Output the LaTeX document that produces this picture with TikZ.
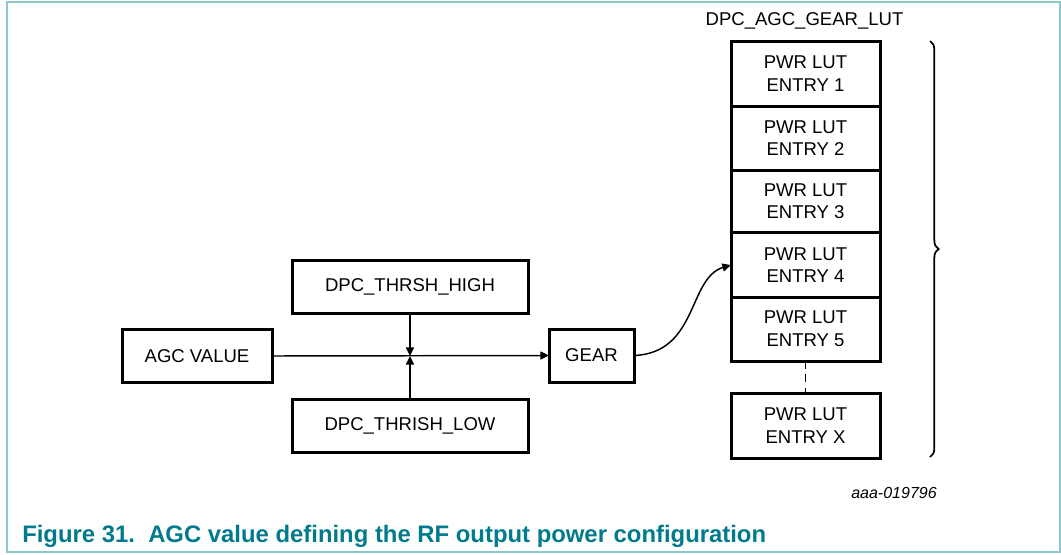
\documentclass[tikz,border=0pt]{standalone}
\usepackage{fontspec}
\setmainfont{Liberation Sans}
\usetikzlibrary{arrows.meta,decorations.pathreplacing}
\definecolor{capteal}{RGB}{0,122,140}
\definecolor{frameteal}{RGB}{140,200,206}
\tikzset{
  blk/.style 2 args={draw=black, line width=2.25pt, rectangle, inner sep=0pt, outer sep=0pt,
    minimum width={#1*0.75pt}, minimum height={#2*0.75pt}, align=center,
    font=\fontsize{13.9pt}{17pt}\selectfont},
  conn/.style={line width=1.1pt, draw=black},
  arr/.style={conn, -{Triangle[length=6.5pt,width=6pt]}},
  lbl/.style={font=\fontsize{13.9pt}{17pt}\selectfont, inner sep=0pt},
}
\begin{document}
\begin{tikzpicture}[x=0.75pt,y=-0.75pt]
\useasboundingbox (0,0) rectangle (1061,554);
\draw[frameteal, line width=1.6pt] (7,2) -- (1060,2) -- (1060,552) -- (7,552) -- cycle;

\node[blk={150}{53}] (agc) at (197,356) {AGC VALUE};
\node[blk={236}{53}] (high) at (410,286.5) {DPC\_THRSH\_HIGH};
\node[blk={236}{53}] (low) at (410,425.5) {DPC\_THRISH\_LOW};
\node[blk={85}{53}] (gear) at (591.5,355.5) {GEAR};

\node[blk={149}{65}] (e1) at (805.5,73.5) {PWR LUT\\ENTRY 1};
\node[blk={149}{64}] (e2) at (805.5,138) {PWR LUT\\ENTRY 2};
\node[blk={149}{62}] (e3) at (805.5,201.25) {PWR LUT\\ENTRY 3};
\node[blk={149}{64.5}] (e4) at (805.5,265) {PWR LUT\\ENTRY 4};
\node[blk={149}{64}] (e5) at (805.5,329) {PWR LUT\\ENTRY 5};
\node[blk={149}{65}] (ex) at (805.5,425.5) {PWR LUT\\ENTRY X};

\node[lbl] (title) at (804.5,21) {DPC\_AGC\_GEAR\_LUT};

\coordinate (j) at (high.south |- agc.east);
\draw[arr] (agc.east) -- (gear.west);
\draw[arr] (high.south) -- (j);
\draw[arr] (low.north) -- (j);
\draw[arr] (gear.east) .. controls (698,353) and (688,278) .. (e4.west);
\draw[line width=1.2pt, dash pattern=on 6pt off 4pt] (e5.south) -- (ex.north);

\coordinate (bt) at (930,41);
\coordinate (bb) at (930,457);
\draw[line width=1.3pt, decorate, decoration={brace, amplitude=6.5pt}] (bt) -- (bb);

\node[inner sep=0pt, font=\fontsize{12pt}{14pt}\selectfont\itshape] (code) at (894,493) {aaa-019796};
\node[inner sep=0pt, anchor=base west, text=capteal, font=\fontsize{17.9pt}{20pt}\selectfont\bfseries] (cap) at (22,542) {Figure 31.\ \ AGC value defining the RF output power configuration};
\end{tikzpicture}
\end{document}
